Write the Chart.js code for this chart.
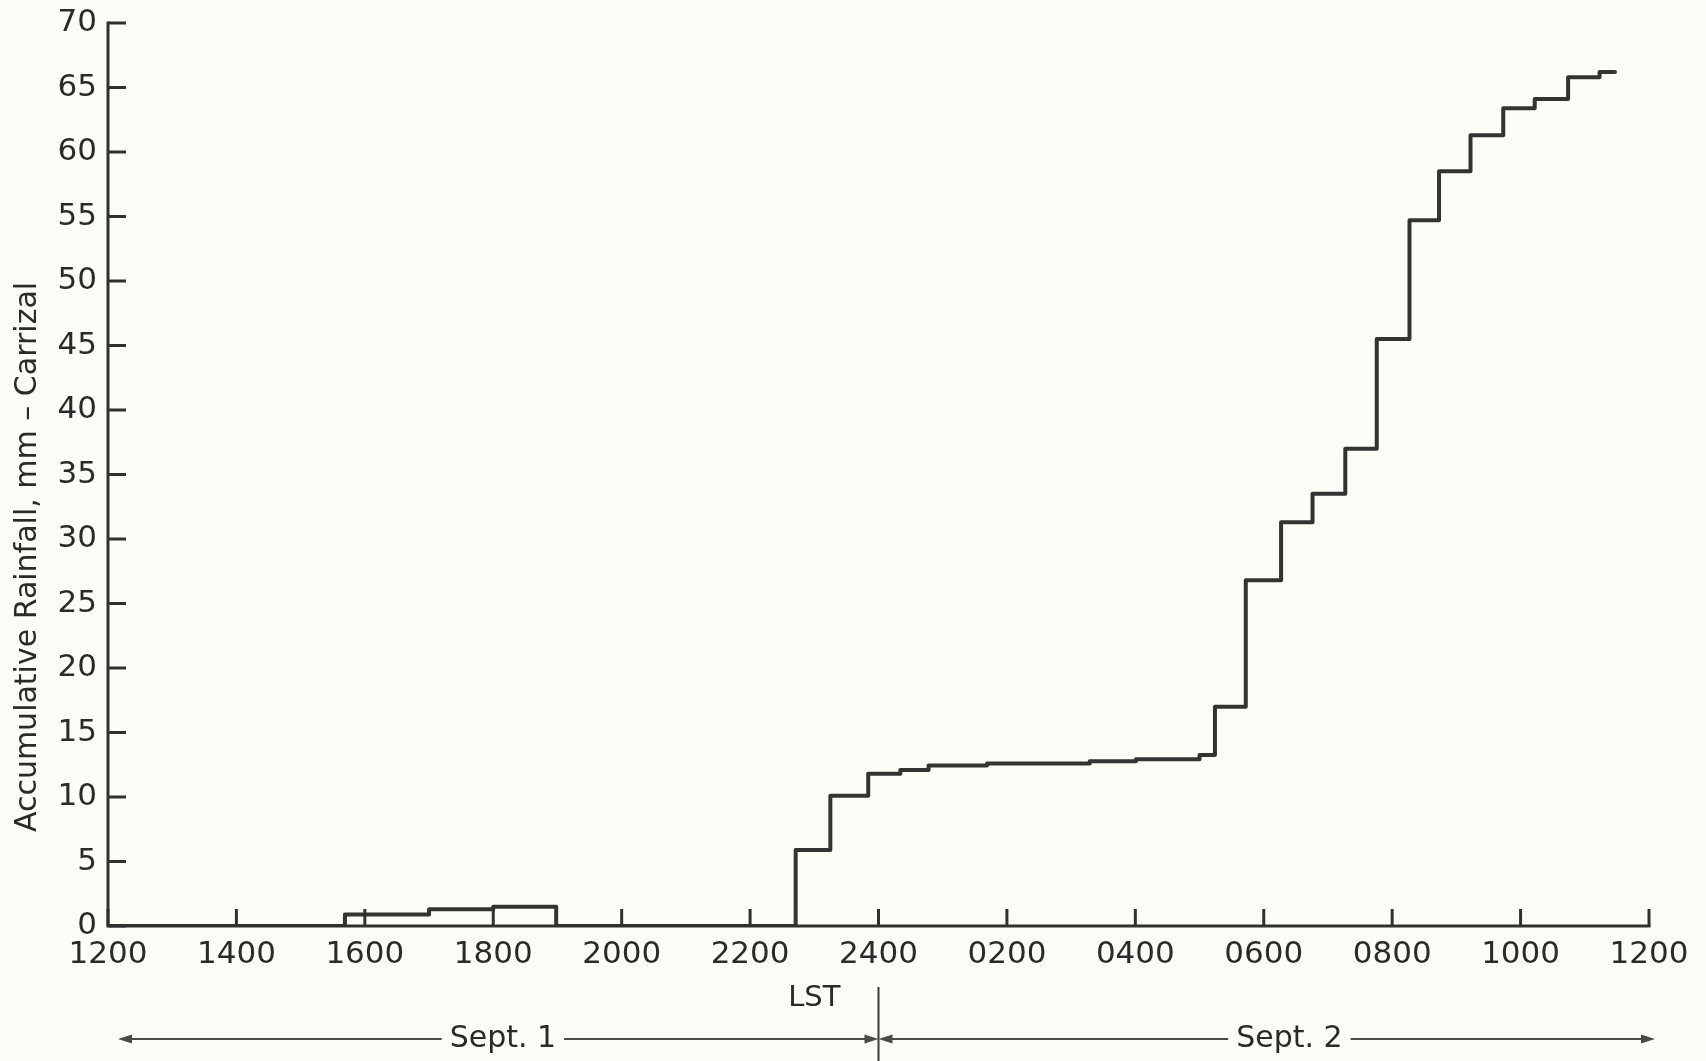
<!DOCTYPE html>
<html>
<head>
<meta charset="utf-8">
<title>Accumulative Rainfall – Carrizal</title>
<script src="https://cdn.jsdelivr.net/npm/chart.js@4.4.1/dist/chart.umd.min.js"></script>
<style>
  html, body { margin: 0; padding: 0; background: #fcfcf7; }
  #wrap { position: relative; width: 1706px; height: 1061px; }
</style>
</head>
<body>
<div id="wrap"><canvas id="rain"></canvas></div>
<script>
// Elapsed hours since 1200 LST, Sept. 1, at which the gauge total changes
const stepHours = [0, 3.69, 5.0, 6.0, 6.98, 10.71, 11.25, 11.84, 12.34, 12.78, 13.69, 15.29, 16.01, 17.0,
                   17.24, 17.72, 18.27, 18.76, 19.27, 19.76, 20.27, 20.73, 21.22, 21.73, 22.22, 22.74, 23.23, 23.47];
// Accumulated rainfall (mm) from each of those times onward
const rainfallMm = [0, 0.9, 1.3, 1.5, 0, 5.9, 10.1, 11.8, 12.1, 12.45, 12.6, 12.77, 12.92, 13.26,
                    17.0, 26.8, 31.3, 33.5, 37.0, 45.5, 54.7, 58.5, 61.3, 63.4, 64.1, 65.8, 66.2, 66.2];

// Axis ticks
const xTickHours = [0, 2, 4, 6, 8, 10, 12, 14, 16, 18, 20, 22, 24];
const xTickLabels = ['1200', '1400', '1600', '1800', '2000', '2200', '2400', '0200', '0400', '0600', '0800', '1000', '1200'];
const yTickValues = [0, 5, 10, 15, 20, 25, 30, 35, 40, 45, 50, 55, 60, 65, 70];

// Annotation text
const yTitle = 'Accumulative Rainfall, mm \u2013 Carrizal';
const xTitle = 'LST';
const dayNames = ['Sept. 1', 'Sept. 2'];

const INK = '#303030';
const FONT = "'DejaVu Sans', 'Liberation Sans', sans-serif";

// Axes with inward ticks, the date bar and the titles
const framePlugin = {
  id: 'frame',
  afterDraw(chart) {
    const { ctx, chartArea: a, scales: { x, y } } = chart;
    ctx.save();
    ctx.strokeStyle = INK;
    ctx.lineCap = 'square';

    // axis lines
    ctx.lineWidth = 3;
    ctx.beginPath();
    ctx.moveTo(a.left, a.top);
    ctx.lineTo(a.left, a.bottom);
    ctx.lineTo(a.right, a.bottom);
    ctx.stroke();

    // inward tick marks
    ctx.lineCap = 'butt';
    ctx.beginPath();
    x.ticks.forEach(t => {
      const px = x.getPixelForValue(t.value);
      ctx.moveTo(px, a.bottom);
      ctx.lineTo(px, a.bottom - 17);
    });
    y.ticks.forEach(t => {
      const py = y.getPixelForValue(t.value);
      ctx.moveTo(a.left, py);
      ctx.lineTo(a.left + 18, py);
    });
    ctx.stroke();

    // y-axis title
    ctx.fillStyle = '#2a2a2a';
    ctx.font = '30px ' + FONT;
    ctx.textAlign = 'center';
    ctx.textBaseline = 'middle';
    ctx.save();
    ctx.translate(28, 557);
    ctx.rotate(-Math.PI / 2);
    ctx.fillText(yTitle, 0, 0);
    ctx.restore();

    // LST label
    ctx.font = '29px ' + FONT;
    ctx.fillText(xTitle, x.getPixelForValue(11), 998);

    // day divider at midnight
    const mid = x.getPixelForValue(12);
    ctx.strokeStyle = '#3a3a3a';
    ctx.lineWidth = 2;
    ctx.beginPath();
    ctx.moveTo(mid, 987);
    ctx.lineTo(mid, 1061);
    ctx.stroke();

    // date bar with arrows
    const barY = 1039;
    const start = x.getPixelForValue(0) + 10;
    const end = x.getPixelForValue(24) + 6;
    ctx.font = '30px ' + FONT;
    const gap = 8;
    const labelCenters = [x.getPixelForValue(6.15), x.getPixelForValue(18.4)];
    const w1 = ctx.measureText(dayNames[0]).width;
    const w2 = ctx.measureText(dayNames[1]).width;

    ctx.strokeStyle = '#4a4a4a';
    ctx.lineWidth = 1.8;
    ctx.beginPath();
    ctx.moveTo(start + 10, barY);
    ctx.lineTo(labelCenters[0] - w1 / 2 - gap, barY);
    ctx.moveTo(labelCenters[0] + w1 / 2 + gap, barY);
    ctx.lineTo(mid - 10, barY);
    ctx.moveTo(mid + 10, barY);
    ctx.lineTo(labelCenters[1] - w2 / 2 - gap, barY);
    ctx.moveTo(labelCenters[1] + w2 / 2 + gap, barY);
    ctx.lineTo(end - 10, barY);
    ctx.stroke();

    const head = (tipX, dir) => {
      ctx.beginPath();
      ctx.moveTo(tipX, barY);
      ctx.lineTo(tipX - dir * 14, barY - 4.5);
      ctx.lineTo(tipX - dir * 14, barY + 4.5);
      ctx.closePath();
      ctx.fill();
    };
    ctx.fillStyle = '#4a4a4a';
    head(start, -1);
    head(mid, 1);
    head(mid, -1);
    head(end, 1);

    ctx.fillStyle = '#2a2a2a';
    ctx.textBaseline = 'middle';
    ctx.fillText(dayNames[0], labelCenters[0], barY);
    ctx.fillText(dayNames[1], labelCenters[1], barY);

    ctx.restore();
  }
};

new Chart(document.getElementById('rain'), {
  type: 'line',
  data: {
    datasets: [{
      data: stepHours.map((h, i) => ({ x: h, y: rainfallMm[i] })),
      stepped: 'before',
      borderColor: '#333333',
      borderWidth: 4,
      borderJoinStyle: 'round',
      borderCapStyle: 'round',
      pointRadius: 0,
      fill: false
    }]
  },
  options: {
    responsive: true,
    maintainAspectRatio: false,
    animation: false,
    layout: { padding: { top: 23, right: 57, left: 0, bottom: 0 } },
    plugins: { legend: { display: false }, tooltip: { enabled: false } },
    scales: {
      x: {
        type: 'linear',
        min: 0,
        max: 24,
        afterBuildTicks: s => { s.ticks = xTickHours.map(v => ({ value: v })); },
        afterFit: s => { s.height = 135; s.paddingLeft = 0; s.paddingRight = 0; },
        grid: { display: false, drawTicks: false },
        border: { display: false },
        ticks: {
          padding: 10,
          color: '#2a2a2a',
          font: { family: FONT, size: 31 },
          maxRotation: 0,
          autoSkip: false,
          callback: v => xTickLabels[xTickHours.indexOf(v)]
        }
      },
      y: {
        type: 'linear',
        min: 0,
        max: 70,
        afterBuildTicks: s => { s.ticks = yTickValues.map(v => ({ value: v })); },
        afterFit: s => { s.width = 108; s.paddingTop = 0; s.paddingBottom = 0; },
        grid: { display: false, drawTicks: false },
        border: { display: false },
        ticks: {
          padding: 11,
          color: '#2a2a2a',
          font: { family: FONT, size: 31 },
          autoSkip: false
        }
      }
    }
  },
  plugins: [framePlugin]
});
</script>
</body>
</html>
